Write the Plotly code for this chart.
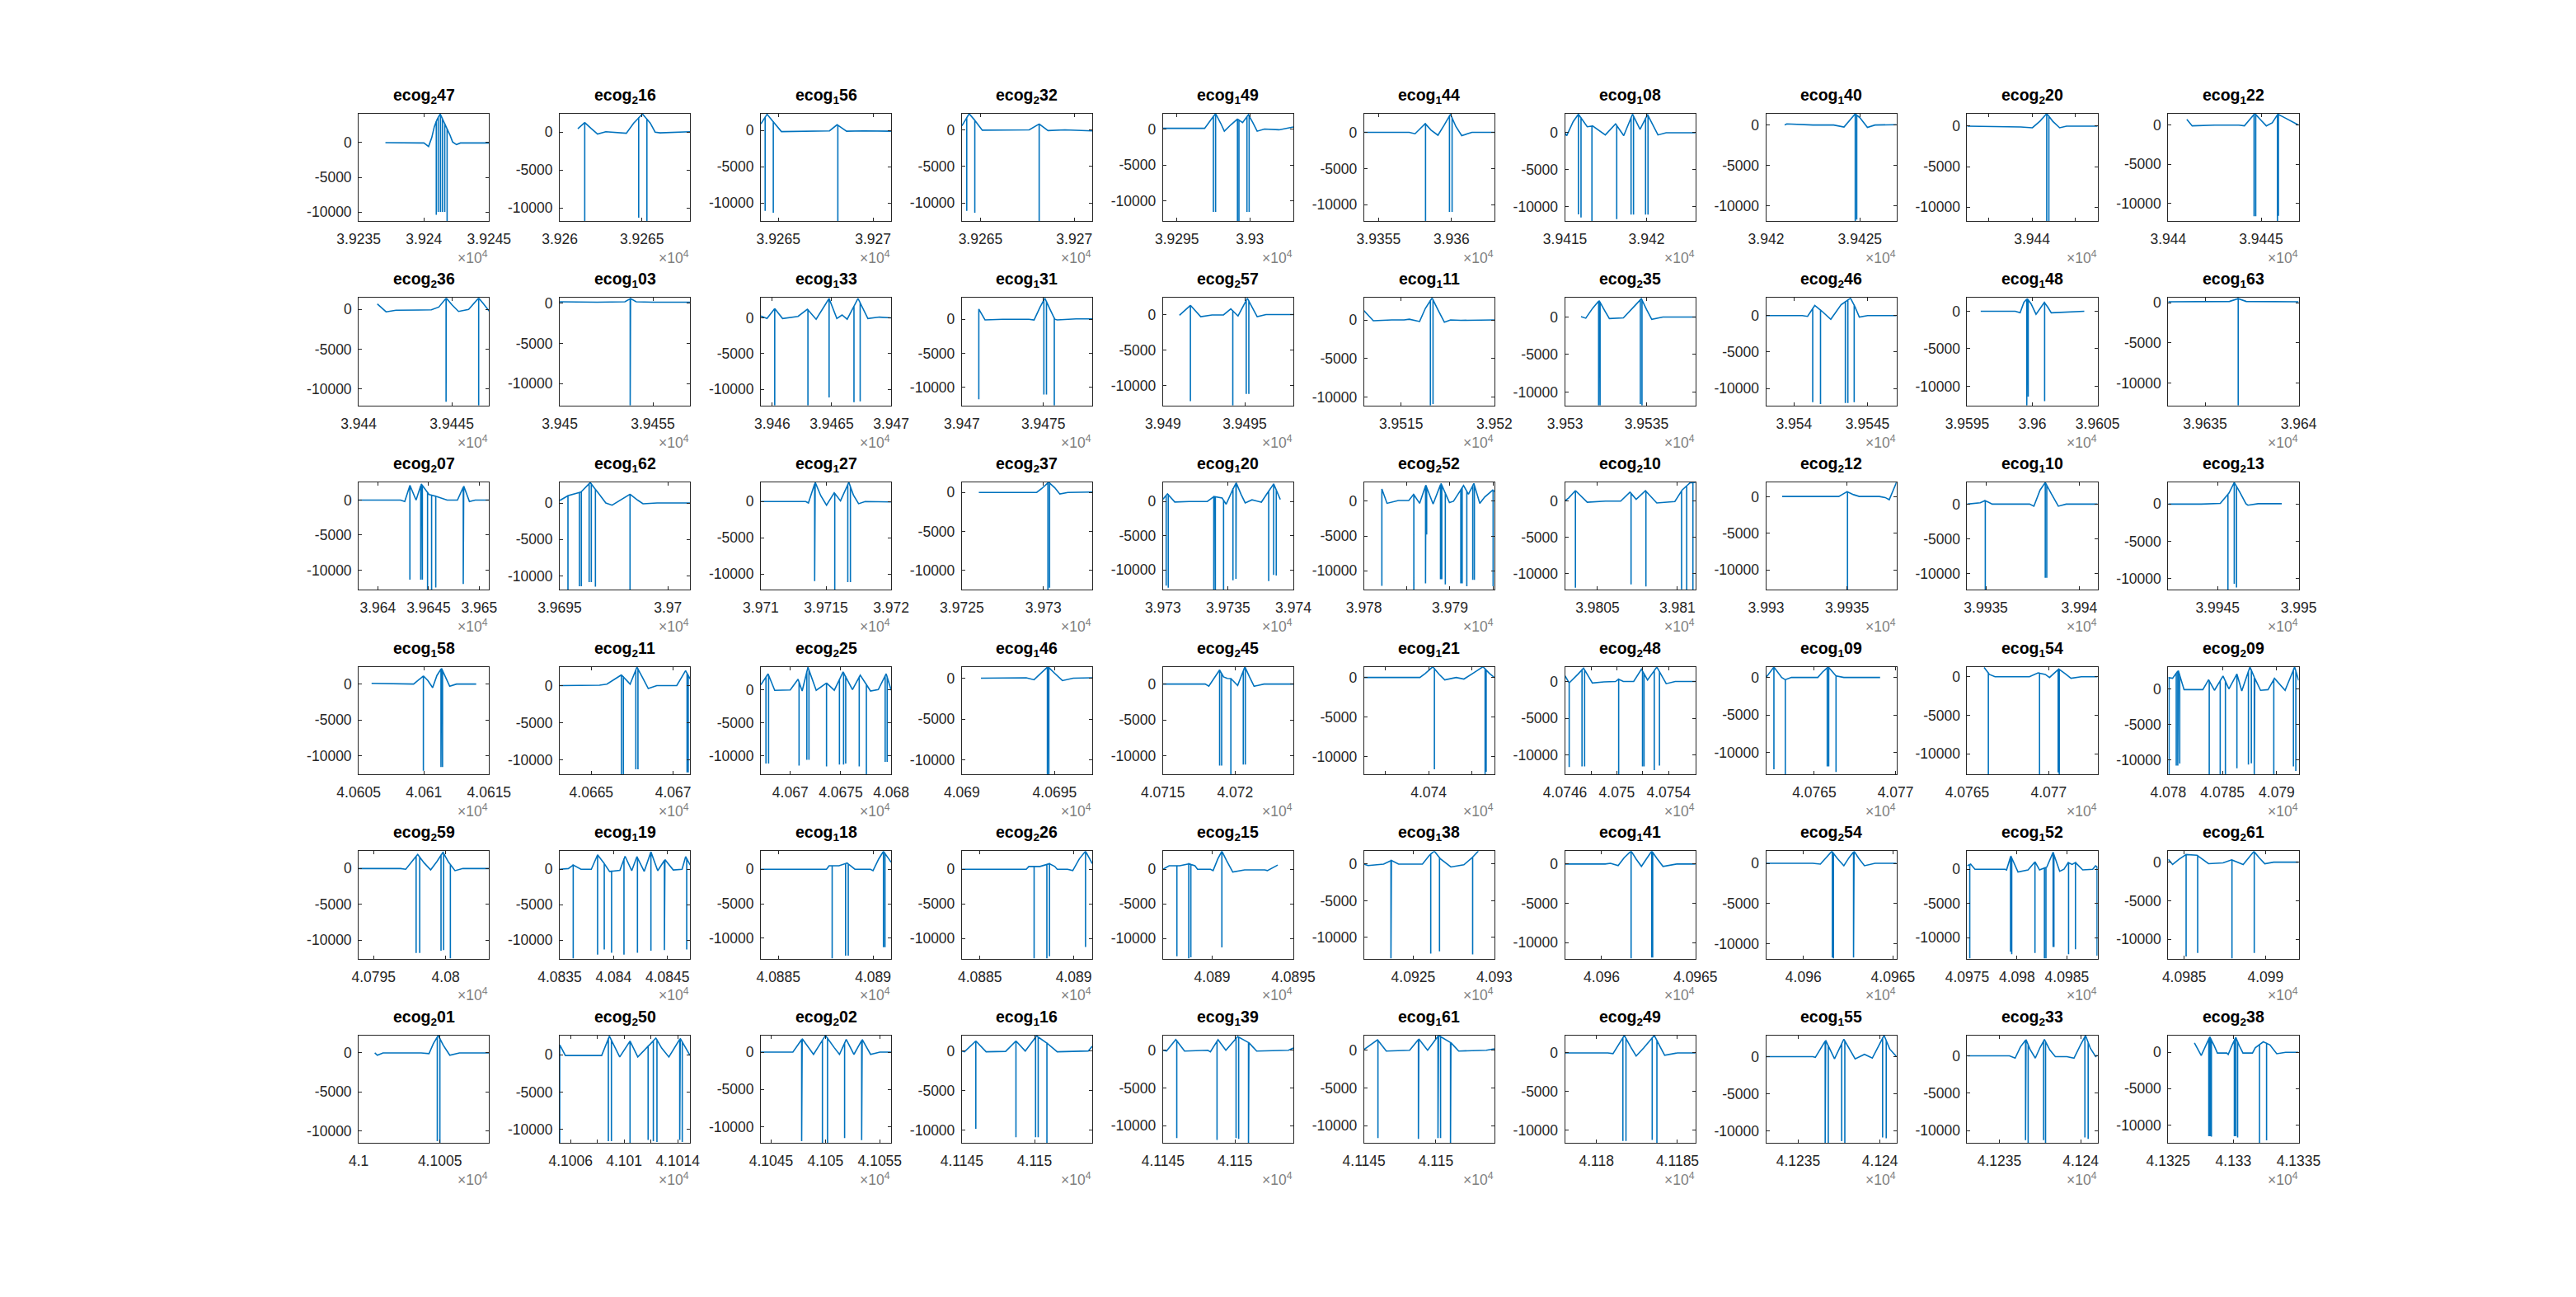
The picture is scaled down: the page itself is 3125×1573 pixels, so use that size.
import numpy as np
import plotly.graph_objects as go

# ---------------- data ----------------
TITLE_SUB = ["2","2","1","2","1","1","1","1","2","1",
             "2","1","1","1","2","1","2","2","1","1",
             "2","1","1","2","1","2","2","2","1","2",
             "1","2","2","1","2","1","2","1","1","2",
             "2","1","1","2","2","1","1","2","1","2",
             "2","2","2","1","1","1","2","1","2","2"]
TITLE_NUM = ["47","16","56","32","49","44","08","40","20","22",
             "36","03","33","31","57","11","35","46","48","63",
             "07","62","27","37","20","52","10","12","10","13",
             "58","11","25","46","45","21","48","09","54","09",
             "59","19","18","26","15","38","41","54","52","61",
             "01","50","02","16","39","61","49","55","33","38"]

XLIMS = [[39235,39245],[39260,39267.93],[39264.07,39270.96],[39264.01,39270.96],[39294.04,39302.98],
         [39354.0,39362.94],[39415,39423],[39420,39426.95],[39432.47,39447.6],[39440,39447.02],
         [39440,39447],[39450,39457],[39459.04,39470],[39470,39478],[39490,39497.97],
         [39513.01,39520],[39530,39538],[39538.1,39546.97],[39595,39605],[39633.03,39640],
         [39638.11,39650.97],[39695,39701.03],[39710,39720],[39725,39733],[39730,39740],
         [39780,39795.17],[39802.97,39811.13],[39930,39938.06],[39934,39940.98],[39941.96,39950],
         [40605,40615],[40663.07,40671.04],[40667.08,40680],[40690,40697.03],[40715,40724.04],
         [40732.56,40747.56],[40746,40756.07],[40762.04,40770.06],[40765,40773],[40780,40792.02],
         [40793.96,40803.02],[40835,40847.1],[40884.07,40890.96],[40884.04,40890.99],[40886.97,40895],
         [40921.97,40930],[40958.05,40965],[40957.92,40965.2],[40975,40988.08],[40984.02,40992.04],
         [41000,41008.03],[41005.19,41014.93],[41044.05,41056.05],[41145,41153.97],[41145,41154.04],
         [41145,41154.06],[41178.06,41186.11],[41233.04,41241.01],[41233.02,41241.04],[41325,41335]]

YLIMS = [[-11300,4200],[-11740,2460],[-12500,2350],[-12470,2230],[-12760,2160],
         [-12250,2600],[-11900,2590],[-11880,1430],[-11700,1560],[-12270,1480],
         [-12100,1460],[-12690,630],[-12220,2780],[-12660,3140],[-12800,2350],
         [-11080,2860],[-11790,2560],[-12340,2440],[-12560,1790],[-12790,590],
         [-12800,2540],[-11890,2840],[-12150,2650],[-12460,1300],[-12880,2800],
         [-12720,2720],[-12250,2550],[-12740,1990],[-12290,3130],[-11510,2930],
         [-12520,2420],[-11890,2540],[-12810,3480],[-11720,1400],[-12520,2420],
         [-12200,1360],[-12630,2020],[-12920,1440],[-12640,1300],[-12040,3140],
         [-12590,2440],[-12620,2570],[-12960,2640],[-12890,2620],[-12890,2620],
         [-12880,1770],[-12030,1650],[-11840,1520],[-13030,2650],[-12500,1440],
         [-11520,2230],[-11840,2590],[-12190,2240],[-11590,1960],[-12320,1970],
         [-12320,1970],[-11630,2250],[-11590,2840],[-11630,2720],[-12460,2310]]

XTICKS = [[39235,39240,39245],[39260,39265],[39265,39270],[39265,39270],[39295,39300],
          [39355,39360],[39415,39420],[39420,39425],[39435,39440,39445],[39440,39445],
          [39440,39445],[39450,39455],[39460,39465,39470],[39470,39475],[39490,39495],
          [39515,39520],[39530,39535],[39540,39545],[39595,39600,39605],[39635,39640],
          [39640,39645,39650],[39695,39700],[39710,39715,39720],[39725,39730],[39730,39735,39740],
          [39780,39785,39790,39795],[39805,39810],[39930,39935],[39935,39940],[39945,39950],
          [40605,40610,40615],[40665,40670],[40670,40675,40680],[40690,40695],[40715,40720],
          [40735,40740,40745],[40746,40748,40750,40752,40754],[40765,40770],[40765,40770],[40780,40785,40790],
          [40795,40800],[40835,40840,40845],[40885,40890],[40885,40890],[40890,40895],
          [40925,40930],[40960,40965],[40960,40965],[40975,40980,40985],[40985,40990],
          [41000,41005],[41006,41008,41010,41012,41014],[41045,41050,41055],[41145,41150],[41145,41150],
          [41145,41150],[41180,41185],[41235,41240],[41235,41240],[41325,41330,41335]]

XTICKLABELS = [["3.9235","3.924","3.9245"],["3.926","3.9265"],["3.9265","3.927"],["3.9265","3.927"],["3.9295","3.93"],
               ["3.9355","3.936"],["3.9415","3.942"],["3.942","3.9425"],["","3.944",""],["3.944","3.9445"],
               ["3.944","3.9445"],["3.945","3.9455"],["3.946","3.9465","3.947"],["3.947","3.9475"],["3.949","3.9495"],
               ["3.9515","3.952"],["3.953","3.9535"],["3.954","3.9545"],["3.9595","3.96","3.9605"],["3.9635","3.964"],
               ["3.964","3.9645","3.965"],["3.9695","3.97"],["3.971","3.9715","3.972"],["3.9725","3.973"],["3.973","3.9735","3.974"],
               ["3.978","","3.979",""],["3.9805","3.981"],["3.993","3.9935"],["3.9935","3.994"],["3.9945","3.995"],
               ["4.0605","4.061","4.0615"],["4.0665","4.067"],["4.067","4.0675","4.068"],["4.069","4.0695"],["4.0715","4.072"],
               ["","4.074",""],["4.0746","","4.075","","4.0754"],["4.0765","4.077"],["4.0765","4.077"],["4.078","4.0785","4.079"],
               ["4.0795","4.08"],["4.0835","4.084","4.0845"],["4.0885","4.089"],["4.0885","4.089"],["4.089","4.0895"],
               ["4.0925","4.093"],["4.096","4.0965"],["4.096","4.0965"],["4.0975","4.098","4.0985"],["4.0985","4.099"],
               ["4.1","4.1005"],["4.1006","","4.101","","4.1014"],["4.1045","4.105","4.1055"],["4.1145","4.115"],["4.1145","4.115"],
               ["4.1145","4.115"],["4.118","4.1185"],["4.1235","4.124"],["4.1235","4.124"],["4.1325","4.133","4.1335"]]

YTICKS = [-10000, -5000, 0]
YTICKLABELS = ["-10000", "-5000", "0"]

# slow waveform key points per panel
TRACE_X = [
 [39237.05,39240.0,39240.36,39240.6,39240.8,39241.0,39241.25,39241.7,39242.0,39242.2,39242.5,39242.8,39245.0],
 [39261.1,39261.5,39261.9,39262.3,39262.8,39263.7,39264.05,39264.5,39265.03,39265.5,39265.8,39266.1,39267.93],
 [39264.07,39264.4,39264.7,39265.16,39266.0,39267.0,39267.7,39268.1,39268.6,39269.5,39270.96],
 [39264.01,39264.4,39264.7,39265.1,39266.5,39267.6,39268.13,39268.6,39269.5,39270.96],
 [39294.04,39296.0,39296.9,39297.3,39297.65,39298.0,39298.25,39298.7,39299.15,39299.5,39299.9,39300.2,39300.5,39301.0,39302.0,39302.98],
 [39354.0,39357.1,39357.5,39358.2,39358.6,39359.07,39359.5,39359.93,39360.3,39360.7,39361.4,39362.94],
 [39415.0,39415.1,39415.5,39415.82,39416.36,39416.7,39417.47,39418.1,39418.6,39419.14,39419.6,39420.06,39420.7,39421.2,39423.0],
 [39420.99,39421.1,39422.5,39423.6,39424.15,39424.75,39425.0,39425.4,39425.8,39426.95],
 [39432.47,39436.0,39438.7,39440.04,39440.9,39441.7,39442.4,39443.2,39444.0,39447.6],
 [39441.0,39441.29,39442.5,39443.8,39444.1,39444.66,39445.0,39445.28,39445.6,39445.9,39446.3,39447.02],
 [39441.0,39441.47,39442.0,39443.9,39444.3,39444.7,39445.0,39445.36,39445.9,39446.44,39446.7,39447.0],
 [39450.0,39452.0,39453.5,39453.8,39454.1,39455.0,39457.0],
 [39459.04,39459.56,39460.21,39460.87,39462.17,39462.95,39463.69,39464.78,39465.43,39465.87,39466.3,39467.21,39468.04,39469.0,39470.0],
 [39471.04,39471.42,39472.5,39474.11,39474.43,39474.8,39475.09,39475.4,39475.7,39475.85,39477.0,39478.0],
 [39491.01,39491.68,39492.31,39493.0,39493.7,39494.15,39494.59,39495.16,39495.76,39496.3,39497.97],
 [39513.01,39513.51,39514.5,39515.16,39515.44,39515.99,39516.3,39516.66,39517.0,39517.32,39517.65,39518.2,39520.0],
 [39530.98,39531.27,39531.7,39532.09,39532.45,39532.72,39533.58,39534.2,39534.68,39535.0,39535.32,39536.0,39538.0],
 [39538.1,39540.56,39540.92,39541.41,39541.9,39542.5,39543.2,39543.84,39544.15,39544.44,39545.0,39546.97],
 [39596.04,39598.69,39599.06,39599.35,39599.61,39599.9,39600.28,39600.6,39600.92,39601.2,39601.45,39603.98],
 [39633.03,39634.5,39636.3,39636.77,39637.2,39638.5,39640.0],
 [39638.11,39642.24,39642.65,39643.16,39643.77,39644.28,39645.05,39645.81,39646.83,39647.85,39648.47,39649.03,39649.6,39650.97],
 [39695.0,39695.38,39695.98,39696.41,39696.8,39697.13,39697.42,39697.9,39698.25,39698.6,39698.85,39699.5,39701.03],
 [39710.0,39713.45,39713.65,39714.17,39714.6,39715.04,39715.63,39716.11,39716.75,39717.1,39717.5,39718.0,39720.0],
 [39726.04,39728.0,39729.59,39729.9,39730.32,39730.7,39731.01,39731.5,39733.0],
 [39730.0,39730.35,39730.91,39732.0,39733.4,39733.92,39734.54,39734.85,39735.2,39735.62,39736.0,39736.31,39736.83,39737.55,39738.0,39738.49,39739.0],
 [39782.08,39782.68,39784.0,39785.21,39785.77,39786.47,39787.19,39788.04,39788.96,39789.94,39790.41,39791.58,39792.15,39792.78,39793.47,39794.04,39794.98,39795.17],
 [39802.97,39803.2,39803.62,39804.36,39805.5,39806.45,39807.03,39807.42,39808.0,39808.71,39809.84,39810.3,39810.8,39811.13],
 [39930.99,39933.0,39934.49,39935.0,39935.4,39935.76,39937.0,39937.36,39937.61,39938.06],
 [39934.0,39934.7,39934.95,39935.2,39935.34,39936.5,39937.34,39937.57,39937.9,39938.18,39938.5,39938.88,39939.3,39940.98],
 [39941.96,39944.0,39945.17,39945.71,39946.03,39946.4,39946.75,39946.87,39947.5,39948.96],
 [40605.99,40608.0,40609.21,40609.96,40610.3,40610.67,40611.0,40611.35,40611.7,40611.98,40612.5,40614.01],
 [40663.07,40665.5,40665.95,40666.84,40667.37,40667.79,40668.1,40668.48,40669.0,40670.22,40670.76,40671.04],
 [40667.08,40667.8,40668.46,40670.0,40670.77,40671.18,40671.75,40672.57,40673.59,40674.36,40675.23,40676.16,40676.93,40677.95,40678.72,40679.5,40680.0],
 [40691.03,40692.5,40693.47,40693.89,40694.3,40694.64,40695.0,40695.42,40696.0,40697.03],
 [40715.0,40717.93,40718.18,40718.93,40719.2,40719.46,40719.71,40720.18,40720.68,40721.0,40721.32,40722.0,40724.04],
 [40732.56,40736.0,40738.99,40739.6,40740.48,40741.2,40741.85,40743.16,40744.05,40745.2,40746.25,40747.0,40747.56],
 [40746.0,40746.32,40747.0,40747.43,40748.11,40749.0,40749.9,40750.1,40750.5,40751.3,40751.9,40752.37,40753.09,40753.81,40754.5,40756.07],
 [40762.04,40762.52,40763.0,40763.22,40763.6,40765.22,40765.5,40765.86,40766.34,40766.82,40768.0,40769.05],
 [40766.04,40766.36,40766.71,40768.0,40768.82,40769.35,40769.79,40770.05,40770.62,40771.0,40771.37,40772.0,40773.0],
 [40780.0,40780.4,40780.93,40781.46,40782.5,40783.19,40783.72,40784.26,40785.05,40785.59,40786.33,40786.78,40787.53,40787.98,40788.51,40789.2,40789.79,40790.77,40791.65,40792.02],
 [40793.96,40796.87,40797.23,40797.6,40798.06,40798.5,40798.96,40799.4,40799.82,40800.2,40800.65,40801.2,40803.02],
 [40835.0,40835.8,40836.25,40836.97,40837.93,40838.51,40839.13,40839.62,40840.58,40841.06,40841.68,40842.16,40842.84,40843.46,40844.09,40844.76,40845.53,40846.35,40846.68,40847.1],
 [40884.07,40886.0,40887.54,40887.68,40888.2,40888.63,40888.82,40889.04,40889.86,40890.0,40890.3,40890.55,40890.96],
 [40884.04,40886.0,40887.47,40887.61,40888.2,40888.71,40888.99,40889.12,40889.67,40889.95,40890.3,40890.63,40890.99],
 [40886.97,40887.35,40888.0,40888.53,40888.94,40889.1,40889.9,40890.06,40890.35,40890.6,40890.9,40891.27,40892.0,40893.24,40893.4,40894.04],
 [40921.97,40922.22,40923.18,40923.66,40924.1,40925.57,40926.0,40926.3,40926.68,40927.32,40928.12,40928.6,40929.01],
 [40958.05,40960.19,40960.47,40960.88,40961.2,40961.57,40961.85,40962.12,40962.4,40962.67,40962.95,40963.27,40964.0,40965.0],
 [40957.92,40960.52,40960.95,40961.25,40961.59,40961.9,40962.26,40962.55,40962.83,40963.1,40963.41,40964.0,40965.2],
 [40975.0,40975.35,40975.78,40978.8,40978.95,40979.38,40980.1,40981.11,40981.8,40982.26,40982.98,40983.62,40984.28,40984.71,40985.14,40985.52,40985.86,40986.59,40987.59,40987.88,40988.08],
 [40984.02,40984.29,40984.7,40985.08,40985.79,40986.5,40987.39,40987.92,40988.63,40989.0,40989.29,40989.6,40989.96,40990.5,40992.04],
 [41000.99,41001.15,41001.5,41003.85,41004.33,41004.6,41004.9,41005.2,41005.61,41006.2,41008.03],
 [41005.19,41005.61,41006.5,41008.32,41008.9,41009.67,41010.44,41011.02,41011.6,41011.99,41012.37,41012.8,41013.34,41014.19,41014.92],
 [41044.05,41047.0,41047.86,41048.9,41050.0,41050.81,41051.29,41051.91,41052.62,41053.38,41054.15,41055.0,41056.05],
 [41145.0,41145.18,41145.96,41146.67,41148.01,41148.72,41149.36,41150.14,41150.85,41151.56,41153.69,41153.97],
 [41145.0,41145.25,41145.89,41146.5,41148.11,41148.29,41148.82,41149.36,41150.18,41150.96,41151.5,41153.7,41154.04],
 [41145.0,41145.94,41146.55,41148.17,41148.81,41149.42,41150.18,41151.04,41151.58,41153.5,41154.06],
 [41178.06,41180.7,41181.02,41181.4,41181.72,41182.1,41182.45,41182.9,41183.57,41183.9,41184.21,41185.0,41186.11],
 [41233.04,41235.89,41236.05,41236.68,41237.22,41237.79,41238.48,41239.05,41239.53,41240.25,41240.6,41241.01],
 [41233.02,41235.62,41235.97,41236.3,41236.64,41236.9,41237.21,41237.5,41237.77,41238.1,41238.44,41239.15,41239.59,41240.0,41240.3,41240.6,41240.92,41241.04],
 [41327.01,41327.53,41327.9,41328.19,41328.5,41328.77,41329.49,41329.6,41329.9,41330.18,41330.45,41330.73,41331.46,41331.67,41332.29,41332.8,41333.22,41333.32,41334.0,41335.0],
]

TRACE_Y = [
 [0,-50,-550,700,2300,3300,4150,2300,1100,100,-280,-50,-50],
 [450,1300,500,-250,50,-50,-150,1200,2400,1200,0,-100,50],
 [900,2250,1300,-150,-100,-50,-50,800,-100,-50,-100],
 [550,2200,1300,-50,0,0,800,-100,0,-150],
 [100,50,100,1200,2150,800,-300,600,1400,900,2000,900,-300,0,-100,300],
 [0,0,-200,1200,300,-400,1000,2500,800,-450,0,0],
 [-50,-400,1500,2500,800,900,-300,1200,-400,2500,450,2450,-300,0,0],
 [0,150,0,0,-250,1400,900,-300,0,50],
 [0,-50,-100,-200,600,1550,600,-200,0,0],
 [740,-100,0,0,-100,1480,600,-100,300,1400,900,0],
 [690,-300,-100,-50,300,1450,600,-250,0,1450,700,-200],
 [150,100,150,550,150,100,100],
 [250,-100,1300,-100,200,1200,-200,2700,-100,400,-200,2700,-100,100,0],
 [1500,-100,0,0,-100,1800,3100,1500,0,-100,50,50],
 [-100,1300,-300,-50,-50,800,-200,2300,-300,0,0],
 [1200,-100,0,0,100,-200,1500,2850,1200,-300,0,-50,0],
 [50,-150,1200,2200,800,-200,-100,1300,2450,1000,-300,0,0],
 [0,0,-100,1400,600,-500,1500,2400,1200,-200,0,0],
 [0,0,-200,1200,1700,1000,-400,400,1200,500,-200,0],
 [100,100,150,500,150,100,100],
 [0,0,-200,2100,0,2300,800,500,0,0,2000,-200,0,0],
 [350,1000,1500,2800,1300,0,-300,600,1200,400,-100,0,0],
 [0,0,-200,2650,800,-500,1200,100,2650,900,-300,0,-50],
 [0,0,0,500,1300,600,-200,0,50],
 [320,1120,-80,0,0,720,500,-400,1200,2720,1000,-200,240,-100,1200,2560,300],
 [1770,-300,100,100,990,-300,2320,-400,2560,-200,0,2250,1000,2560,-300,600,1600,1400],
 [0,400,1400,-200,-50,-50,1200,200,1400,-300,-100,1500,2500,2550],
 [50,50,50,700,300,50,50,-100,-400,1990],
 [0,200,500,200,0,0,0,-300,2000,3100,1500,-300,0,0],
 [0,0,100,1500,2900,1500,50,-150,50,50],
 [100,0,0,1130,500,-500,1200,2200,800,-300,0,0],
 [0,50,200,1440,200,2490,1200,-400,0,0,2000,900],
 [730,2400,-100,-50,1570,-200,3400,-100,1000,-100,2700,0,2200,-200,0,2400,-100],
 [0,50,50,-200,700,1400,600,-300,0,50],
 [0,0,-300,1960,1000,800,770,-200,2400,1000,-300,0,0],
 [0,0,0,500,1350,400,-300,0,-200,600,1350,500,0],
 [760,-200,1000,1820,-200,-50,0,350,0,0,1670,200,1970,-300,0,0],
 [0,1400,0,-300,0,0,700,1400,200,0,0,0],
 [1200,300,0,0,0,500,300,-100,1000,400,-200,0,0],
 [1600,1500,2600,-100,-100,-100,1300,-200,1830,0,2100,-300,3100,1500,-200,-100,1500,-200,3100,1200],
 [0,0,-100,900,1970,800,-200,1000,2280,900,-300,0,0],
 [0,100,600,0,0,2040,800,-310,-160,1830,-210,1780,-300,2460,-200,1360,-100,0,1780,600],
 [0,0,0,500,500,900,500,0,0,-200,1500,2600,1000],
 [0,0,0,400,400,800,400,0,0,-200,1500,2600,800],
 [0,500,500,800,500,0,0,-200,1500,2600,1200,-400,-100,-100,-200,600],
 [0,-200,0,500,0,0,1200,1770,700,-400,-100,800,1770],
 [0,0,100,-200,800,1650,600,-300,700,1650,700,-300,0,0],
 [0,0,-100,700,1500,600,-300,700,1500,600,-300,0,0],
 [500,750,0,0,-100,1940,-400,-100,1080,-100,300,2480,-300,0,970,700,970,-100,0,500,300],
 [385,-300,400,1000,900,-200,-100,300,-300,700,1400,600,-200,0,0],
 [0,-300,0,0,-100,1200,2230,1000,-300,0,0],
 [1340,-100,-100,-100,2500,-300,1840,-300,800,1500,2240,900,-300,2200,-100],
 [0,0,1800,-300,2240,600,-300,1700,-300,1700,-300,0,0],
 [0,-100,1260,-100,-50,1260,0,1900,1000,-100,0,600],
 [0,-100,1430,-100,0,-200,1400,0,1820,1000,-100,0,300],
 [100,1400,-100,0,1500,0,1970,1000,-100,0,200],
 [0,0,-100,1200,2250,800,-400,600,2250,900,-300,0,0],
 [0,0,-100,2190,-300,2340,-300,300,-200,2840,1000,0],
 [0,0,-300,1200,2180,800,-300,1100,2180,800,-100,-100,-300,1500,2700,1000,-100,100],
 [1290,-450,1000,2120,1000,-100,-100,-300,1000,2050,900,-100,-100,600,1440,1000,0,-200,0,0],
]

# fast negative deflections: time and minimum value
SPIKE_X = [
 [39240.95,39241.1,39241.27,39241.42,39241.6,39241.78],
 [39261.52,39264.8,39265.3],
 [39264.3,39264.73,39268.14],
 [39264.27,39264.7,39268.13],
 [39297.5,39297.65,39299.15,39299.25,39299.8,39299.95],
 [39358.22,39359.86,39360.04],
 [39415.82,39415.98,39416.65,39418.17,39419.05,39419.2,39419.94,39420.09],
 [39424.75,39424.83],
 [39441.7,39441.95],
 [39444.62,39444.71,39445.88,39445.93],
 [39444.69,39446.44],
 [39453.78],
 [39460.21,39463.0,39464.78,39466.87,39467.39],
 [39471.04,39475.03,39475.19,39475.67],
 [39491.68,39494.27,39495.09,39495.25],
 [39516.57,39516.71],
 [39532.06,39532.15,39534.62,39534.72],
 [39541.27,39541.8,39543.49,39543.66,39544.09],
 [39599.57,39599.68,39600.94],
 [39636.77],
 [39643.16,39644.23,39644.39,39644.9,39645.3,39645.71,39648.42],
 [39695.38,39695.91,39696.0,39696.36,39696.46,39696.65,39698.25],
 [39714.13,39715.67,39716.67,39716.87],
 [39730.28,39730.38],
 [39730.25,39730.41,39733.9,39734.02,39734.65,39735.37,39735.6,39738.11,39738.49,39738.69],
 [39782.08,39785.8,39787.16,39787.29,39788.9,39789.05,39789.46,39791.26,39791.42,39791.96,39792.65,39792.84,39795.02],
 [39803.62,39807.1,39808.03,39810.26,39810.58,39810.97],
 [39935.03],
 [39934.97,39938.18,39938.26],
 [39945.64,39946.03,39946.17],
 [40609.96,40611.31,40611.43],
 [40666.84,40666.96,40667.72,40667.85,40670.85,40670.92],
 [40667.59,40667.85,40670.87,40671.64,40671.85,40673.59,40674.87,40675.28,40675.49,40676.83,40677.54,40679.4,40679.6],
 [40694.61,40694.69],
 [40718.93,40719.07,40719.71,40720.57,40720.71],
 [40740.66,40746.49,40746.61],
 [40746.32,40747.31,40747.51,40750.14,40751.98,40752.1,40752.89,40753.29],
 [40762.52,40763.22,40765.8,40765.89,40766.34],
 [40766.3,40769.44,40770.58,40770.65],
 [40780.08,40780.74,40780.88,40781.06,40783.78,40784.79,40785.27,40786.33,40787.39,40787.66,40787.93,40789.73,40791.54,40791.76],
 [40797.95,40798.2,40799.68,40799.86,40800.33],
 [40836.25,40838.51,40839.13,40839.81,40840.96,40842.21,40843.46,40844.71,40846.78],
 [40887.84,40888.55,40888.69,40890.55,40890.63],
 [40887.89,40888.57,40888.71,40890.63],
 [40887.83,40888.56,40888.69,40890.6],
 [40923.63,40926.08,40926.62,40928.66],
 [40961.57,40962.67,40962.72],
 [40961.62,40961.68,40962.8],
 [40975.26,40979.35,40979.47,40981.8,40982.75,40982.9,40983.62,40983.7,40985.17,40985.86,40988.03],
 [40985.12,40985.83,40987.94,40989.31],
 [41004.84,41005.0],
 [41005.19,41008.82,41009.05,41010.44,41011.79,41012.18,41012.45,41014.15,41014.34],
 [41047.81,41049.72,41050.19,41051.76,41053.33],
 [41145.96,41148.72,41150.07,41150.25,41150.85],
 [41145.96,41148.75,41150.07,41150.25,41150.93],
 [41145.97,41148.78,41150.14,41150.32,41151.01],
 [41181.63,41181.82,41183.44,41183.73],
 [41236.65,41236.84,41237.66,41237.85,41240.16,41240.38],
 [41236.61,41236.77,41237.72,41237.84,41240.26,41240.46],
 [41328.11,41328.21,41328.31,41330.07,41330.18,41330.32,41332.0,41332.54],
]

SPIKE_Y = [
 [-10400,-10000,-10000,-10000,-10000,-11300],
 [-11740,-11300,-11740],
 [-11100,-11350,-12500],
 [-11090,-11340,-12470],
 [-11500,-11500,-12760,-12760,-11500,-11500],
 [-12250,-11000,-11000],
 [-11000,-11420,-11900,-11650,-11030,-11030,-11030,-11030],
 [-11880,-11700],
 [-11700,-11700],
 [-11670,-11670,-12270,-11600],
 [-11650,-12100],
 [-12690],
 [-12220,-12220,-11100,-11770,-11650],
 [-11760,-11060,-11060,-12660],
 [-12200,-12800,-11170,-11170],
 [-11080,-10900],
 [-11790,-11790,-11600,-11790],
 [-11900,-12140,-12000,-12000,-11900],
 [-12560,-11400,-11980],
 [-12790],
 [-11340,-11340,-11340,-12800,-12800,-12480,-11970],
 [-11890,-11400,-11400,-10850,-10850,-11450,-11890],
 [-10950,-12150,-11100,-11100],
 [-12460,-12200],
 [-12280,-12560,-12880,-12880,-12880,-11480,-11280,-11600,-10720,-10800],
 [-12150,-12720,-11800,-4770,-11200,-11200,-11950,-11800,-11800,-12200,-11300,-11300,-12200],
 [-11950,-11500,-11800,-12200,-12250,-12250],
 [-12740],
 [-12290,-10580,-10580],
 [-11510,-10700,-11200],
 [-12050,-11540,-11540],
 [-11890,-11890,-11240,-11240,-11640,-11640],
 [-11200,-11200,-11520,-10620,-10620,-11630,-11350,-11350,-11200,-11630,-12810,-10960,-10960],
 [-11720,-11720],
 [-11330,-11330,-12520,-11180,-11180],
 [-11580,-12200,-11900],
 [-11660,-11560,-11560,-12630,-11560,-11560,-12070,-11460],
 [-12270,-12920,-11880,-11880,-12620],
 [-12640,-12640,-12400,-12640],
 [-12040,-10840,-10840,-10530,-12040,-12040,-12040,-11210,-10690,-10500,-12040,-12040,-10950,-11580],
 [-11810,-11810,-11500,-11400,-12590],
 [-12620,-12050,-11320,-11800,-12050,-11800,-11500,-11430,-11320],
 [-12960,-12530,-12530,-11300,-11300],
 [-12890,-12890,-12570,-11230],
 [-12570,-12890,-12700,-11290],
 [-12880,-12200,-11900,-12300],
 [-12030,-11900,-11900],
 [-11700,-11840,-11700],
 [-13030,-12040,-12400,-12200,-13030,-13030,-11340,-11340,-12400,-11660,-12600],
 [-12220,-11780,-12500,-11780],
 [-11300,-11520],
 [-11840,-11590,-11590,-11840,-11440,-11590,-11700,-11440,-11700],
 [-11940,-12190,-12190,-11540,-11800],
 [-9800,-10880,-10880,-10880,-11590],
 [-11680,-11930,-11680,-11780,-12320],
 [-11680,-11780,-11680,-11680,-12320],
 [-11380,-11380,-11240,-11630],
 [-11590,-11590,-11350,-11590,-10850,-10950],
 [-11240,-11630,-11240,-11630,-10900,-11100],
 [-11520,-11520,-11600,-11520,-11520,-11700,-12460,-12100],
]

# ---------------- style / layout ----------------
FIG_W, FIG_H = 3125, 1573
NROWS, NCOLS = 6, 10
COL_LEFT0, COL_PITCH, BOX_W = 415.3, 248.2, 161.0
ROW_TOP0, ROW_PITCH, BOX_H = 134.0, 224.2, 130.7
LINE_COLOR = "#0072BD"
AX_COLOR = "#262626"
FONT = "Liberation Sans, Arial, Helvetica, sans-serif"
TICK_SIZE = 17.5
TITLE_SIZE = 19.5


def build_series(tx, ty, sx, sy):
    pts = [(x, 0, y) for x, y in zip(tx, ty)]
    for x, d in zip(sx, sy):
        base = float(np.interp(x, tx, ty))
        pts.append((x, 1, base))
        pts.append((x, 2, d))
        pts.append((x, 3, base))
    pts.sort(key=lambda p: (p[0], p[1]))
    return [p[0] for p in pts], [p[2] for p in pts]


fig = go.Figure()
layout = dict(
    width=FIG_W, height=FIG_H,
    margin=dict(l=0, r=0, t=0, b=0),
    paper_bgcolor="white", plot_bgcolor="white",
    showlegend=False,
)
annotations = []

for i in range(NROWS * NCOLS):
    r, c = divmod(i, NCOLS)
    left = COL_LEFT0 + COL_PITCH * c
    top = ROW_TOP0 + ROW_PITCH * r
    x0, x1 = left / FIG_W, (left + BOX_W) / FIG_W
    y1 = 1 - top / FIG_H
    y0 = 1 - (top + BOX_H) / FIG_H
    k = i + 1
    xs, ys = build_series(TRACE_X[i], TRACE_Y[i], SPIKE_X[i], SPIKE_Y[i])
    fig.add_trace(go.Scatter(
        x=xs, y=ys, mode="lines",
        line=dict(color=LINE_COLOR, width=1.6),
        xaxis=f"x{k}", yaxis=f"y{k}", hoverinfo="skip",
    ))
    common = dict(
        showline=True, linecolor=AX_COLOR, linewidth=1, mirror="allticks",
        ticks="inside", ticklen=4, tickwidth=1, tickcolor=AX_COLOR,
        showgrid=False, zeroline=False, fixedrange=True,
        tickfont=dict(family=FONT, size=TICK_SIZE, color=AX_COLOR),
    )
    layout[f"xaxis{k}"] = dict(
        common, domain=[x0, x1], anchor=f"y{k}", range=XLIMS[i],
        tickmode="array", tickvals=XTICKS[i], ticktext=XTICKLABELS[i],
        ticklabelstandoff=6,
    )
    layout[f"yaxis{k}"] = dict(
        common, domain=[y0, y1], anchor=f"x{k}", range=YLIMS[i],
        tickmode="array", tickvals=YTICKS, ticktext=YTICKLABELS,
        ticklabelstandoff=4,
    )
    annotations.append(dict(
        xref="paper", yref="paper",
        x=(x0 + x1) / 2, y=y1 + 7 / FIG_H,
        xanchor="center", yanchor="bottom",
        text=f"<b>ecog<sub>{TITLE_SUB[i]}</sub>{TITLE_NUM[i]}</b>",
        showarrow=False,
        font=dict(family=FONT, size=TITLE_SIZE, color="black"),
    ))
    annotations.append(dict(
        xref="paper", yref="paper",
        x=x1 + 1 / FIG_W, y=y0 - 44 / FIG_H,
        xanchor="right", yanchor="middle",
        text="×10<sup>4</sup>",
        showarrow=False,
        font=dict(family=FONT, size=TICK_SIZE, color="#808080"),
    ))

layout["annotations"] = annotations
fig.update_layout(**layout)
fig.write_html("out.html")
